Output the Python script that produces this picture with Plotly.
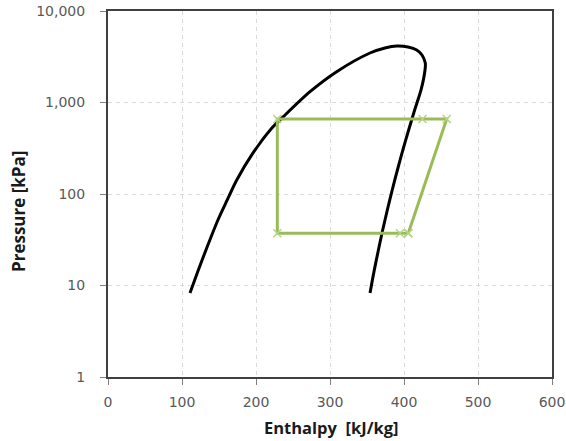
import plotly.graph_objects as go

# Saturation dome (liquid line -> critical point -> vapour line)
dome_h = [110.8, 121.6, 133.4, 149, 160.8, 174, 196, 221.2, 237, 273, 309, 354, 374.3,
          390.5, 405.4, 417.2, 424.3, 428.8, 428.4, 423, 414.4, 406.3, 398.5, 391.1,
          384.1, 377.5, 371.2, 365.4, 359.9, 354.1]
dome_p = [8.3, 14.4, 25.7, 53, 85, 142, 281, 522, 700, 1312, 2171, 3475, 3945,
          4143, 4045, 3750, 3305, 2700, 2265, 1370, 828, 501, 303, 183,
          110.6, 66.9, 40.4, 24.4, 14.8, 8.3]

# Refrigeration cycle
cycle_h = [405.8, 457.7, 425, 228.8, 228.8, 394.6, 405.8]
cycle_p = [37.2, 660, 660, 660, 37.2, 37.2, 37.2]

x_ticks = [0, 100, 200, 300, 400, 500, 600]
y_ticks = [1, 10, 100, 1000, 10000]
y_labels = ["1", "10", "100", "1,000", "10,000"]

fig = go.Figure()
fig.add_trace(go.Scatter(x=dome_h, y=dome_p, mode="lines",
                         line=dict(color="black", width=3, shape="spline", smoothing=0.8),
                         showlegend=False))
fig.add_trace(go.Scatter(x=cycle_h, y=cycle_p, mode="lines+markers",
                         line=dict(color="#9BBB59", width=3),
                         marker=dict(symbol="x-thin", size=8, line=dict(color="#B5D38A", width=1.5)),
                         showlegend=False))

font_fam = "Open Sans, Liberation Sans, sans-serif"
tick_fam = "DejaVu Sans, Open Sans, sans-serif"
axis_common = dict(ticks="outside", ticklen=6, tickcolor="#808080", tickwidth=1,
                   showgrid=True, gridcolor="#D9D9D9", griddash="4px,4px", gridwidth=1,
                   showline=True, linecolor="#404040", linewidth=2, mirror=True,
                   zeroline=False, automargin=False,
                   tickfont=dict(family=tick_fam, size=14, color="#595959"))
fig.update_layout(
    width=566, height=441,
    margin=dict(l=108, r=14, t=11, b=64, pad=0),
    paper_bgcolor="white", plot_bgcolor="white",
    font=dict(family=font_fam, color="#595959", size=14),
    xaxis=dict(range=[0, 600], tickvals=x_ticks, ticklabelstandoff=5, **axis_common),
    yaxis=dict(type="log", range=[0, 4], tickvals=y_ticks, ticktext=y_labels,
               ticklabelstandoff=12, **axis_common),
    annotations=[
        dict(text="<b>Enthalpy  [kJ/kg]</b>", xref="paper", yref="paper",
             x=0.502, y=-0.137, showarrow=False, xanchor="center", yanchor="middle",
             font=dict(family=font_fam, size=16.5, color="#1a1a1a")),
        dict(text="<b>Pressure [kPa]</b>", xref="paper", yref="paper",
             x=-0.2027, y=0.4508, showarrow=False, xanchor="center", yanchor="middle",
             textangle=-90, font=dict(family=font_fam, size=17, color="#1a1a1a")),
    ],
)
fig.write_html("out.html")
